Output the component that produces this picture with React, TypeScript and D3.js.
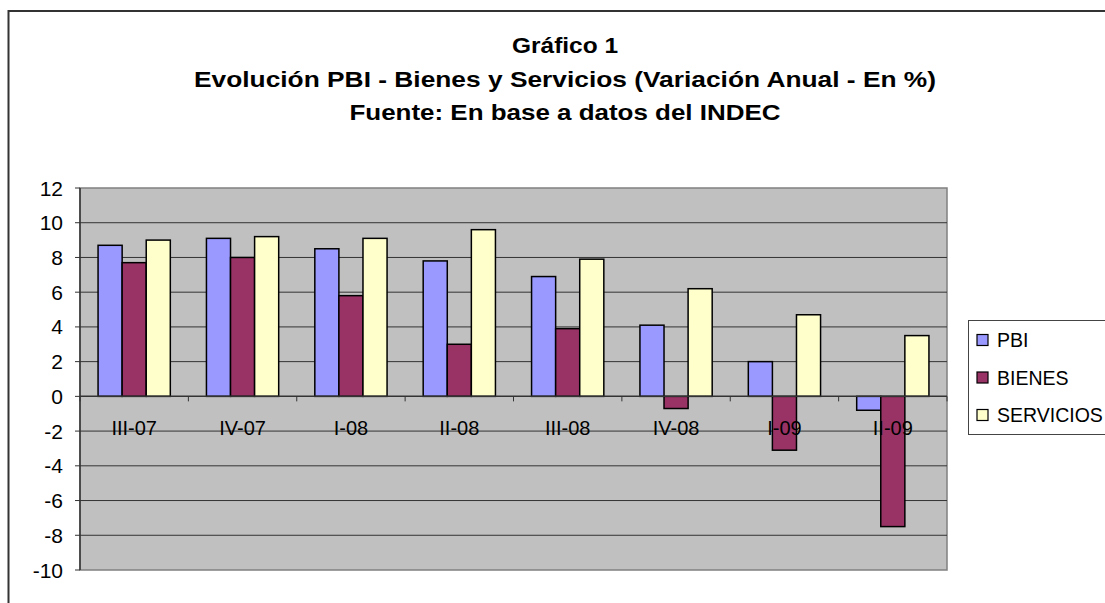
import React from "react";
import * as d3 from "d3";

const categories = ["III-07", "IV-07", "I-08", "II-08", "III-08", "IV-08", "I-09", "II-09"];
const seriesNames = ["PBI", "BIENES", "SERVICIOS"];
const pbi = [8.7, 9.1, 8.5, 7.8, 6.9, 4.1, 2.0, -0.8];
const bienes = [7.7, 8.0, 5.8, 3.0, 3.9, -0.7, -3.1, -7.5];
const servicios = [9.0, 9.2, 9.1, 9.6, 7.9, 6.2, 4.7, 3.5];
const yTicks = [12, 10, 8, 6, 4, 2, 0, -2, -4, -6, -8, -10];
const colors = ["#9999FF", "#993366", "#FFFFCC"];
const titleLines = [
  "Gráfico 1",
  "Evolución PBI - Bienes y Servicios (Variación Anual - En %)",
  "Fuente: En base a datos del INDEC",
];
const titleWidths = [106, 742, 431];
const titleBaselines = [52.5, 86.5, 119.5];

export default function App() {
  const W = 1105, H = 603;
  const left = 80, right = 947, top = 188, bottom = 570;
  const font = "'Liberation Sans', Arial, sans-serif";
  const x0 = d3.scaleBand().domain(categories).range([left, right]).paddingInner(0).paddingOuter(0);
  const x1 = d3.scaleBand().domain(seriesNames).range([0, x0.bandwidth()]).paddingInner(0).paddingOuter(0.75);
  const y = d3.scaleLinear().domain([-10, 12]).range([bottom, top]);
  const data = [pbi, bienes, servicios];
  const y0 = y(0);

  return (
    <svg width={W} height={H} style={{ position: "absolute", left: 0, top: 0, background: "#fff" }}>
      <rect x={8.5} y={11} width={1200} height={700} fill="#fff" stroke="#333" strokeWidth={2} />
      {titleLines.map((t, i) => (
        <text
          key={i}
          x={565}
          y={titleBaselines[i]}
          textAnchor="middle"
          fontFamily={font}
          fontWeight="bold"
          fontSize={21.5}
          fill="#000"
          textLength={titleWidths[i]}
          lengthAdjust="spacingAndGlyphs"
        >
          {t}
        </text>
      ))}
      <rect x={left} y={top} width={right - left} height={bottom - top} fill="#C0C0C0" stroke="#808080" strokeWidth={1.5} />
      {yTicks.map((t) => (
        <g key={t}>
          {t !== 12 && t !== -10 && t !== 0 && (
            <line x1={left} x2={right} y1={y(t)} y2={y(t)} stroke="#333" strokeWidth={1} />
          )}
          <line x1={left - 5} x2={left} y1={y(t)} y2={y(t)} stroke="#333" strokeWidth={1} />
          <text x={63} y={y(t)} dy="0.36em" textAnchor="end" fontFamily={font} fontSize={21} fill="#000">
            {t}
          </text>
        </g>
      ))}
      {categories.map((c, i) =>
        seriesNames.map((s, j) => {
          const v = data[j][i];
          const bx = (x0(c) as number) + (x1(s) as number);
          return (
            <rect
              key={c + s}
              x={bx}
              y={Math.min(y(v), y0)}
              width={x1.bandwidth()}
              height={Math.abs(y(v) - y0)}
              fill={colors[j]}
              stroke="#000"
              strokeWidth={1.5}
            />
          );
        })
      )}
      <line x1={left} x2={right} y1={y0} y2={y0} stroke="#333" strokeWidth={1.5} />
      {d3.range(categories.length + 1).map((k) => {
        const tx = left + k * x0.step();
        return <line key={k} x1={tx} x2={tx} y1={y0} y2={y0 + 5} stroke="#333" strokeWidth={1} />;
      })}
      <line x1={left} x2={left} y1={top} y2={bottom} stroke="#333" strokeWidth={1.5} />
      {categories.map((c) => (
        <text key={c} x={(x0(c) as number) + x0.bandwidth() / 2} y={435} textAnchor="middle" fontFamily={font} fontSize={20} fill="#000">
          {c}
        </text>
      ))}
      <rect x={968.5} y={320.5} width={150} height={114} fill="#fff" stroke="#444" strokeWidth={1} />
      {seriesNames.map((s, j) => (
        <g key={s}>
          <rect x={977} y={334.5 + j * 37.5} width={11} height={11} fill={colors[j]} stroke="#000" strokeWidth={1.2} />
          <text x={997} y={340 + j * 37.5} dy="0.36em" fontFamily={font} fontSize={19.5} fill="#000">
            {s}
          </text>
        </g>
      ))}
    </svg>
  );
}
